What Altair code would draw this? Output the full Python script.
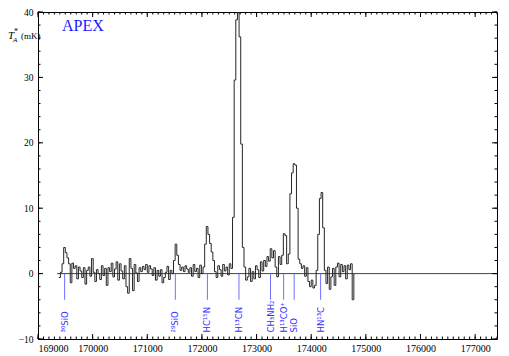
import altair as alt
import pandas as pd

# ---- data ----
F0 = 169380.0      # first channel edge (MHz)
CHAN = 30.0        # channel width (MHz)
T_MK = [
    -0.6, 0.2, 1.5, 4.0, 3.2, 2.4, 1.5, -1.4, 1.6, 0.8,
    1.2, -0.8, 1.0, 0.4, -0.6, 0.9, -1.6, 0.5, 1.0, -0.4,
    2.3, 0.2, -1.2, 0.6, 0.0, -0.9, 1.2, -0.3, 0.8, -1.8,
    0.9, 0.3, 1.6, -0.5, 0.7, 1.8, -1.0, 1.5, 0.4, -0.8,
    1.2, -2.0, -3.0, 2.3, 0.8, -2.6, 1.4, 0.1, -1.2, 0.9,
    0.3, 1.1, 0.6, 1.4, 0.2, 1.2, 0.7, -0.3, 0.9, -1.0,
    0.5, -0.4, 0.6, -1.4, -0.6, 0.2, 1.1, -0.9, 0.5, 0.0,
    2.0, 4.5, 2.8, 1.4, 0.5, 1.0, 0.3, 1.2, 0.7, 0.2,
    0.9, -0.4, 1.4, 0.3, 0.8, -0.6, 1.3, 0.0, 1.0, 4.5,
    7.2, 6.0, 4.6, 3.3, 2.0, 0.3, -0.6, 1.2, 0.6, -0.4,
    1.4, 0.4, 1.0, -0.2, 1.5, 0.8, 8.6, 29.6, 38.8, 44.0,
    36.2, 19.8, 4.0, 1.0, -1.0, -0.5, 0.8, -1.2, 0.3, -0.8,
    1.2, 0.6, -0.6, 1.8, 0.4, 2.0, 1.1, 2.6, 1.9, 3.8,
    2.4, 3.5, 1.0, -0.5, 2.6, 1.4, 2.8, 6.1, 5.8, 1.5,
    3.0, 12.2, 15.4, 16.8, 16.6, 10.0, 2.2, 1.5, 0.8, 1.2,
    -0.4, 0.9, -1.2, -2.0, -1.0, -2.2, -1.8, 0.5, 6.0, 11.5,
    12.4, 7.0, 0.5, -1.5, 1.0, -2.4, -0.5, 0.8, -1.8, 1.0,
    1.6, -0.5, 1.4, 0.3, 1.2, -0.8, 1.3, 0.6, 1.5, -4.0,
]
LINE_NAMES = ["³⁰SiO", "²⁹SiO", "HC¹⁵N", "H¹³CN", "CH₃NH₂", "H¹³CO⁺", "SiO", "HN¹³C"]
LINE_FREQS = [169487, 171513, 172100, 172678, 173255, 173495, 173688, 174172]

X_MAJOR = list(range(169000, 177001, 1000))
X_MINOR = list(range(169000, 177401, 100))
Y_MAJOR = [-10, 0, 10, 20, 30, 40]
Y_MINOR = list(range(-10, 41, 2))

BASE_START = 169350
X_DOMAIN = [169000, 177400]
Y_DOMAIN = [-10, 40]

W, H = 459, 327

# ---- tables ----
n = len(T_MK)
spec = pd.DataFrame({
    "freq": [F0 + i * CHAN for i in range(n + 1)],
    "t": T_MK + [0.0],
})
lines = pd.DataFrame({"name": LINE_NAMES, "freq": LINE_FREQS})
base = pd.DataFrame({"f1": [BASE_START], "f2": [X_DOMAIN[1]]})
xmaj = pd.DataFrame({"v": X_MAJOR})
xmin = pd.DataFrame({"v": X_MINOR})
ymaj = pd.DataFrame({"v": Y_MAJOR})
ymin = pd.DataFrame({"v": Y_MINOR})
one = pd.DataFrame({"a": [0]})

xs = alt.Scale(domain=X_DOMAIN, nice=False, zero=False)
ys = alt.Scale(domain=Y_DOMAIN, nice=False, zero=False)

SERIF = "Liberation Serif"
BLUE_TXT = "#3030ff"
BLUE_TICK = "#7070ff"

x_axis = alt.Axis(values=X_MAJOR, format="d", ticks=False, domain=False, grid=False,
                  labelFont=SERIF, labelFontSize=10, labelColor="#000", labelPadding=4,
                  title=None)
y_axis = alt.Axis(values=Y_MAJOR, format="d", ticks=False, domain=False, grid=False,
                  labelFont=SERIF, labelFontSize=9.5, labelColor="#000", labelPadding=5,
                  title=None)

baseline = alt.Chart(base).mark_rule(color="#444", strokeWidth=1).encode(
    x=alt.X("f1:Q", scale=xs, axis=x_axis), x2="f2:Q",
    y=alt.datum(0, scale=ys, axis=y_axis),
)

spectrum = alt.Chart(spec).mark_line(
    interpolate="step-after", color="#262626", strokeWidth=1, clip=True
).encode(
    x=alt.X("freq:Q", scale=xs),
    y=alt.Y("t:Q", scale=ys),
)

line_ticks = alt.Chart(lines).mark_rule(color=BLUE_TICK, strokeWidth=1).encode(
    x=alt.X("freq:Q", scale=xs), y=alt.datum(0), y2=alt.datum(-4),
)
line_text = alt.Chart(lines).mark_text(
    angle=270, align="left", baseline="middle", font="DejaVu Sans",
    fontSize=8.5, color=BLUE_TXT,
).encode(x=alt.X("freq:Q", scale=xs), y=alt.datum(-9), text="name:N")

# inward ticks on all four sides
def xticks(df, length):
    bot = alt.Chart(df).mark_rule(color="#000", strokeWidth=1).encode(
        x=alt.X("v:Q", scale=xs), y=alt.value(H), y2=alt.value(H - length))
    top = alt.Chart(df).mark_rule(color="#000", strokeWidth=1).encode(
        x=alt.X("v:Q", scale=xs), y=alt.value(0), y2=alt.value(length))
    return bot + top

def yticks(df, length):
    lft = alt.Chart(df).mark_rule(color="#000", strokeWidth=1).encode(
        y=alt.Y("v:Q", scale=ys), x=alt.value(0), x2=alt.value(length))
    rgt = alt.Chart(df).mark_rule(color="#000", strokeWidth=1).encode(
        y=alt.Y("v:Q", scale=ys), x=alt.value(W), x2=alt.value(W - length))
    return lft + rgt

apex = alt.Chart(one).mark_text(
    align="left", baseline="middle", font=SERIF, fontSize=16, color="#1a1aff"
).encode(x=alt.value(24), y=alt.value(14), text=alt.value("APEX"))

t_main = alt.Chart(one).mark_text(
    align="left", baseline="alphabetic", font=SERIF, fontSize=11, fontStyle="italic", color="#000"
).encode(x=alt.value(-30), y=alt.value(27), text=alt.value("T"))
t_sup = alt.Chart(one).mark_text(
    align="left", baseline="alphabetic", font=SERIF, fontSize=8, color="#000"
).encode(x=alt.value(-24), y=alt.value(22), text=alt.value("*"))
t_sub = alt.Chart(one).mark_text(
    align="left", baseline="alphabetic", font=SERIF, fontSize=7, fontStyle="italic", color="#000"
).encode(x=alt.value(-25), y=alt.value(30), text=alt.value("A"))
t_unit = alt.Chart(one).mark_text(
    align="left", baseline="alphabetic", font=SERIF, fontSize=9, color="#000"
).encode(x=alt.value(-17), y=alt.value(27), text=alt.value("(mK)"))

chart = alt.layer(
    baseline, spectrum, line_ticks, line_text,
    xticks(xmaj, 5), xticks(xmin, 2.5), yticks(ymaj, 5), yticks(ymin, 2.5),
    apex, t_main, t_sup, t_sub, t_unit,
).properties(
    width=W, height=H,
    padding={"left": 30, "top": 4, "right": 4, "bottom": 17},
    autosize=alt.AutoSizeParams(type="none"),
).configure_view(stroke="#000", strokeWidth=1)

chart.save("out.html", embed_options={"renderer": "svg", "actions": False})
